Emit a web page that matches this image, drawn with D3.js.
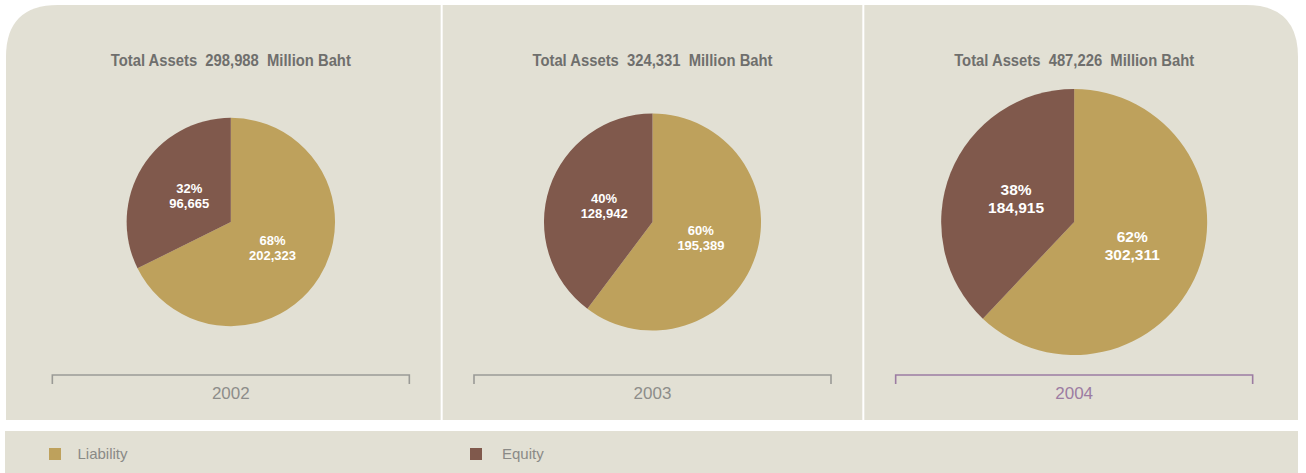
<!DOCTYPE html>
<html>
<head>
<meta charset="utf-8">
<script src="https://cdn.jsdelivr.net/npm/d3@7"></script>
<style>
  html, body { margin: 0; padding: 0; background: #ffffff; }
  svg { display: block; }
  text { white-space: pre; }
</style>
</head>
<body>
<svg id="chart" width="1306" height="473"></svg>
<script>
// Balance-sheet structure by year (million Baht)
const years = ["2002", "2003", "2004"];
const liability = [202323, 195389, 302311];
const equity = [96665, 128942, 184915];
const seriesNames = ["Liability", "Equity"];

const colors = { Liability: "#bea15c", Equity: "#80594c" };
const panelFill = "#e2e0d4";

const svg = d3.select("#chart");

// Columns
const x = d3.scaleBand().domain(years).range([20, 1285]).paddingInner(0).paddingOuter(0);

// Pie area proportional to total assets
const totals = years.map((y, i) => liability[i] + equity[i]);
const r = d3.scaleSqrt().domain([0, d3.max(totals)]).range([0, 133]);

// Background panel with rounded top corners
const px0 = 6, px1 = 1298, py0 = 5, py1 = 420, rad = 52;
svg.append("path")
  .attr("d", `M${px0},${py1} L${px0},${py0 + rad} Q${px0},${py0} ${px0 + rad},${py0} L${px1 - rad},${py0} Q${px1},${py0} ${px1},${py0 + rad} L${px1},${py1} Z`)
  .attr("fill", panelFill);

// Column dividers
years.slice(1).forEach(y => {
  svg.append("rect")
    .attr("x", x(y) - 1).attr("y", py0).attr("width", 2).attr("height", py1 - py0)
    .attr("fill", "#ffffff");
});

const fmt = d3.format(",");
const pie = d3.pie().sort(null).value(d => d.value);
const cy = 222;

years.forEach((year, i) => {
  const cx = x(year) + x.bandwidth() / 2;
  const g = svg.append("g");

  // Condensed heading
  g.append("text")
    .attr("x", cx).attr("y", 66)
    .attr("text-anchor", "middle")
    .attr("font-family", "'Liberation Sans', Arial, sans-serif")
    .attr("font-weight", "bold")
    .attr("font-size", 16)
    .attr("textLength", 240)
    .attr("lengthAdjust", "spacingAndGlyphs")
    .attr("fill", "#6f6f6d")
    .text(`Total Assets  ${fmt(totals[i])}  Million Baht`);

  const data = [
    { key: "Liability", value: liability[i] },
    { key: "Equity", value: equity[i] }
  ];
  const radius = r(totals[i]);
  const arc = d3.arc().innerRadius(0).outerRadius(radius);
  const labelArc = d3.arc().innerRadius(radius * 0.47).outerRadius(radius * 0.47);
  const fs = radius > 120 ? 15.5 : 13;
  const lh = radius > 120 ? 18 : 15;

  const pg = g.append("g").attr("transform", `translate(${cx},${cy})`);
  const arcs = pie(data);
  pg.selectAll("path").data(arcs).join("path")
    .attr("d", arc)
    .attr("fill", d => colors[d.data.key]);

  arcs.forEach(a => {
    const [lx, ly] = labelArc.centroid(a);
    const pct = Math.round(a.data.value / totals[i] * 100);
    const t = pg.append("text")
      .attr("text-anchor", "middle")
      .attr("font-family", "'Liberation Sans', Arial, sans-serif")
      .attr("font-weight", "bold")
      .attr("font-size", fs)
      .attr("fill", "#ffffff");
    t.append("tspan").attr("x", lx).attr("y", ly - lh / 2 + fs * 0.35).text(`${pct}%`);
    t.append("tspan").attr("x", lx).attr("y", ly + lh / 2 + fs * 0.35).text(fmt(a.data.value));
  });

  // Year bracket
  const last = i === years.length - 1;
  const bc = last ? "#9c7ca2" : "#9a9a96";
  const half = 178.5, by = 375, tick = 9;
  g.append("path")
    .attr("d", `M${cx - half},${by + tick} L${cx - half},${by} L${cx + half},${by} L${cx + half},${by + tick}`)
    .attr("fill", "none")
    .attr("stroke", bc)
    .attr("stroke-width", 1.6);
  g.append("text")
    .attr("x", cx).attr("y", 399)
    .attr("text-anchor", "middle")
    .attr("font-family", "'Liberation Sans', Arial, sans-serif")
    .attr("font-size", 17)
    .attr("fill", last ? "#9c7ca2" : "#8d8d8a")
    .text(year);
});

// Legend strip
svg.append("rect")
  .attr("x", 5).attr("y", 431).attr("width", 1293).attr("height", 42)
  .attr("fill", panelFill);

const legendX = d3.scalePoint().domain(seriesNames).range([49, 470]);
const legendTextX = d3.scalePoint().domain(seriesNames).range([77.5, 502]);
seriesNames.forEach(name => {
  svg.append("rect")
    .attr("x", legendX(name)).attr("y", 448).attr("width", 12).attr("height", 12)
    .attr("fill", colors[name]);
  svg.append("text")
    .attr("x", legendTextX(name)).attr("y", 459)
    .attr("font-family", "'Liberation Sans', Arial, sans-serif")
    .attr("font-size", 15)
    .attr("fill", "#8a8a87")
    .text(name);
});
</script>
</body>
</html>
